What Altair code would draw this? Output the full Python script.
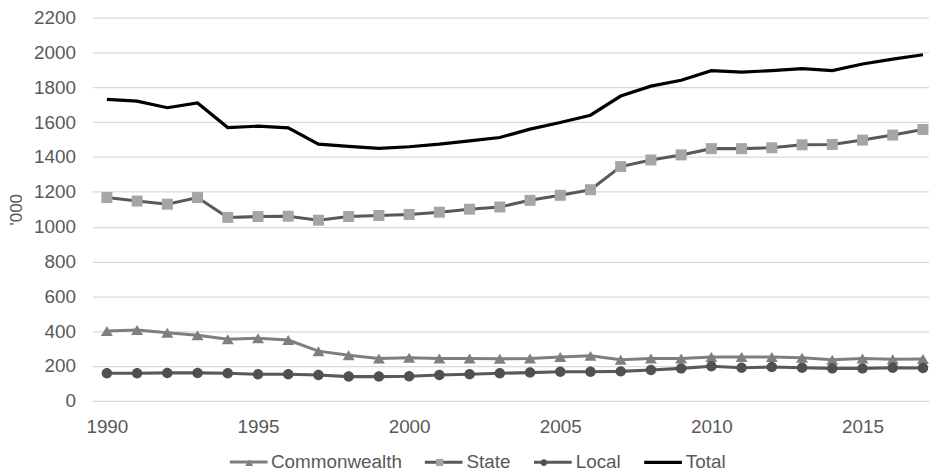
import altair as alt
import pandas as pd

years = list(range(1990, 2018))
series_names = ["Commonwealth", "State", "Local", "Total"]

commonwealth = [401, 406, 391, 376, 353, 359, 349, 285, 262, 243, 247, 243, 243, 241,
                243, 251, 258, 236, 243, 243, 251, 251, 251, 247, 236, 243, 238, 240]
state = [1167, 1147, 1129, 1167, 1053, 1058, 1060, 1037, 1058, 1064, 1070, 1083, 1100, 1113,
         1151, 1180, 1212, 1345, 1383, 1412, 1448, 1448, 1453, 1470, 1472, 1497, 1526, 1558]
local = [158, 158, 160, 160, 158, 152, 152, 148, 139, 139, 141, 148, 152, 158,
         162, 167, 167, 169, 177, 186, 198, 190, 194, 190, 186, 186, 190, 188]
total = [1731, 1721, 1683, 1710, 1569, 1577, 1567, 1474, 1461, 1450, 1459, 1474, 1493, 1512,
         1560, 1598, 1640, 1750, 1807, 1841, 1896, 1887, 1896, 1907, 1896, 1934, 1962, 1987]

x_tick_values = [1990, 1995, 2000, 2005, 2010, 2015]
y_tick_values = list(range(0, 2201, 200))

values = {"Commonwealth": commonwealth, "State": state, "Local": local, "Total": total}
rows = []
for name in series_names:
    for yr, v in zip(years, values[name]):
        rows.append({"year": yr, "value": v, "series": name})
df = pd.DataFrame(rows)

FONT = "Liberation Sans"
TXT = "#595959"

line_colors = ["#7f7f7f", "#595959", "#595959", "#000000"]
line_widths = [3.0, 3.2, 3.2, 3.8]
# marker legend uses its own domain (last entry differs) so that it is not merged
marker_domain = ["Commonwealth", "State", "Local", "Total "]
marker_fills = ["#7f7f7f", "#a5a5a5", "#505050", "transparent"]
marker_shapes = [
    "M0,-0.172L0.207,0.172L-0.207,0.172Z",
    "M-0.19,-0.19H0.19V0.19H-0.19Z",
    "M0.18,0A0.18,0.18 0 1,1 -0.18,0A0.18,0.18 0 1,1 0.18,0Z",
    "M0,0Z",
]

legend_common = dict(
    orient="none", legendX=137, legendY=427, direction="horizontal", title=None,
    symbolSize=1444, symbolStrokeWidth=3.5, labelFont=FONT, labelFontSize=19,
    labelColor=TXT, labelOffset=2, columnPadding=16, padding=0, labelLimit=0,
)

x_enc = alt.X("year:Q", scale=alt.Scale(domain=[1989.52, 2017.2], nice=False, zero=False),
              axis=alt.Axis(values=x_tick_values, format="d", grid=False, domain=False,
                            ticks=False, labelFont=FONT, labelFontSize=19, labelColor=TXT,
                            labelPadding=17, title=None, labelFlush=False))
y_enc = alt.Y("value:Q", scale=alt.Scale(domain=[0, 2200], nice=False),
              axis=alt.Axis(values=y_tick_values, format="d", grid=True, gridColor="#d9d9d9",
                            gridWidth=1.3, domain=False, ticks=False, labelFont=FONT,
                            labelFontSize=19, labelColor=TXT, labelPadding=17,
                            title="'000", titleFont=FONT, titleFontSize=17,
                            titleColor=TXT, titleFontWeight="normal", titleAngle=270,
                            titleX=-76, titleY=193, titleAlign="center",
                            titleBaseline="middle"))

lines = alt.Chart(df).mark_line().encode(
    x=x_enc,
    y=y_enc,
    stroke=alt.Stroke("series:N", scale=alt.Scale(domain=series_names, range=line_colors),
                      legend=alt.Legend(symbolType="stroke", **legend_common)),
    strokeWidth=alt.StrokeWidth("series:N",
                                scale=alt.Scale(domain=series_names, range=line_widths),
                                legend=None),
    detail="series:N",
)

marker_legend = alt.Legend(symbolStrokeColor="transparent", labelOpacity=0, **legend_common)

points = alt.Chart(df).transform_filter(alt.datum.series != "Total").mark_point(
    filled=True, opacity=1, size=3400, strokeWidth=0
).encode(
    x=x_enc,
    y=y_enc,
    fill=alt.Fill("series:N", scale=alt.Scale(domain=marker_domain, range=marker_fills),
                  legend=marker_legend),
    shape=alt.Shape("series:N", scale=alt.Scale(domain=marker_domain, range=marker_shapes),
                    legend=marker_legend),
)

chart = alt.layer(lines, points).properties(
    width=843, height=386,
    autosize=alt.AutoSizeParams(type="none"),
    padding={"left": 85, "top": 8, "right": 0, "bottom": 71},
    background="white",
).configure_view(stroke=None)

chart.save("out.html", embed_options={"renderer": "svg", "actions": False})
